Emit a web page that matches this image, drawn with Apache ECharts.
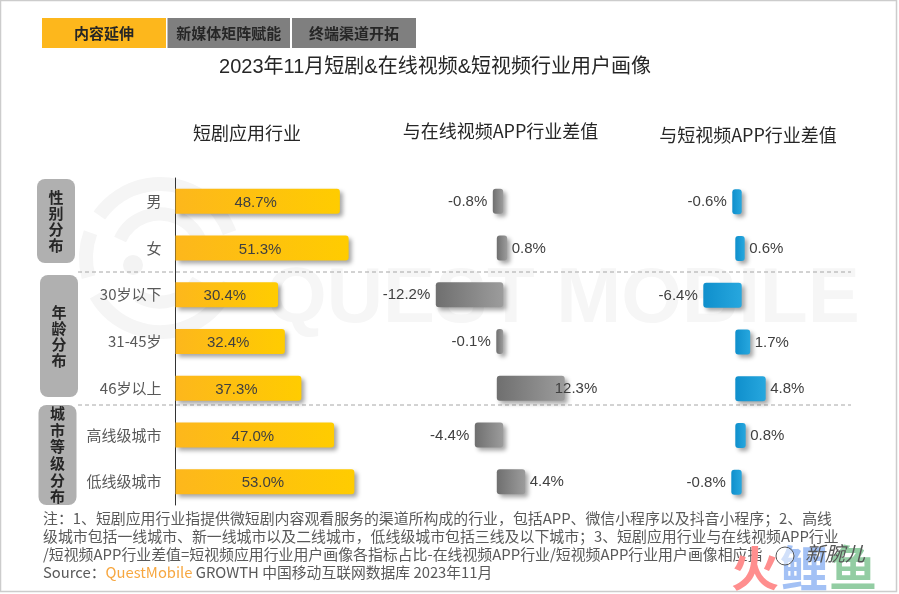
<!DOCTYPE html>
<html>
<head>
    <meta charset="utf-8">
    <title>2023年11月短剧&在线视频&短视频行业用户画像</title>
    <script src="https://cdn.jsdelivr.net/npm/echarts@6/dist/echarts.min.js"></script>
    <style>
        html, body { margin: 0; padding: 0; background: #fff; }
        #main { width: 899px; height: 594px; }
    </style>
</head>
<body>
<div id="main"></div>
<script type="text/javascript">
// 数据
var categories = ['男', '女', '30岁以下', '31-45岁', '46岁以上', '高线级城市', '低线级城市'];
var dramaShare = [48.7, 51.3, 30.4, 32.4, 37.3, 47.0, 53.0];
var onlineVideoDiff = [-0.8, 0.8, -12.2, -0.1, 12.3, -4.4, 4.4];
var shortVideoDiff = [-0.6, 0.6, -6.4, 1.7, 4.8, 0.8, -0.8];
var tabNames = ['内容延伸', '新媒体矩阵赋能', '终端渠道开拓'];
var panelTitles = ['短剧应用行业', '与在线视频APP行业差值', '与短视频APP行业差值'];
var groupNames = ['性别分布', '年龄分布', '城市等级分布'];
var noteLines = [
    '注：1、短剧应用行业指提供微短剧内容观看服务的渠道所构成的行业，包括APP、微信小程序以及抖音小程序；2、高线',
    '级城市包括一线城市、新一线城市以及二线城市，低线级城市包括三线及以下城市；3、短剧应用行业与在线视频APP行业',
    '/短视频APP行业差值=短视频应用行业用户画像各指标占比-在线视频APP行业/短视频APP行业用户画像相应指'
];

var FONT = '"Liberation Sans","Noto Sans CJK SC",sans-serif';
var CJK = '"Noto Sans CJK SC",sans-serif';
var TEXT = '#595959';

function hGrad(from, to) {
    return { type: 'linear', x: 0, y: 0, x2: 1, y2: 0, colorStops: [{ offset: 0, color: from }, { offset: 1, color: to }] };
}

// 差值条：两侧都比零点多出一点，和原图一样
function diffSeries(gridIndex, values, from, to) {
    return {
        type: 'custom',
        xAxisIndex: gridIndex,
        yAxisIndex: gridIndex,
        clip: false,
        data: values.map(function (v, i) { return [v, i]; }),
        encode: { x: 0, y: 1 },
        renderItem: function (params, api) {
            var v = api.value(0);
            var zero = api.coord([0, api.value(1)]);
            var end = api.coord([v, api.value(1)]);
            var pad = 3.2, h = 25;
            var left = v < 0 ? end[0] - pad : zero[0] - pad;
            var right = v < 0 ? zero[0] + pad : end[0] + pad;
            var labelX = v < 0 ? left - 5.5 : right + (v > 10 ? -10 : 4.5);
            return {
                type: 'group',
                children: [{
                    type: 'rect',
                    shape: { x: left, y: zero[1] - h / 2, width: right - left, height: h, r: 3 },
                    style: {
                        fill: hGrad(from, to),
                        shadowBlur: 4, shadowOffsetX: 3, shadowOffsetY: 3, shadowColor: 'rgba(0,0,0,0.35)'
                    }
                }, {
                    type: 'text',
                    z2: 5,
                    style: {
                        x: labelX, y: zero[1] + 0.5,
                        text: v.toFixed(1) + '%',
                        align: v < 0 ? 'right' : 'left', verticalAlign: 'middle',
                        fill: '#404040', font: '15px ' + FONT
                    }
                }]
            };
        }
    };
}

function hiddenX(index, min, max) {
    return { type: 'value', gridIndex: index, min: min, max: max, show: false };
}
function hiddenY(index) {
    return { type: 'category', gridIndex: index, data: categories, inverse: true, show: false };
}

var graphics = [];

// 水印
function arc(cx, cy, r, start, end, w) {
    graphics.push({
        type: 'arc', z: -10, silent: true,
        shape: { cx: cx, cy: cy, r: r, startAngle: start * Math.PI / 180, endAngle: end * Math.PI / 180 },
        style: { stroke: '#f5f5f5', lineWidth: w, fill: null }
    });
}
arc(160, 258, 74, 20, 150, 14);
arc(160, 258, 74, 165, 200, 14);
arc(160, 258, 74, 215, 340, 14);
arc(160, 258, 44, 205, 350, 13);
arc(160, 258, 44, 30, 120, 13);
graphics.push({ type: 'circle', z: -10, silent: true, shape: { cx: 133, cy: 265, r: 10 }, style: { fill: '#f3f3f3' } });
graphics.push({
    type: 'text', z: -10, silent: true,
    style: { x: 266, y: 300, text: 'QUEST MOBILE', verticalAlign: 'middle', fill: '#f6f6f6', font: 'bold 78px ' + FONT }
});

// 边框
graphics.push({
    type: 'rect', z: 10, silent: true,
    shape: { x: 0.5, y: 0.5, width: 896, height: 591 },
    style: { fill: null, stroke: '#cccccc', lineWidth: 1.5 }
});

// 顶部标签
[[42, 124, '#FDB71C'], [167.5, 122.5, '#7F7F7F'], [292, 124, '#7F7F7F']].forEach(function (t, i) {
    graphics.push({
        type: 'rect', z: 10, shape: { x: t[0], y: 18, width: t[1], height: 30 }, style: { fill: t[2] }
    });
    graphics.push({
        type: 'text', z: 11,
        style: {
            x: t[0] + t[1] / 2, y: 33.5, text: tabNames[i], align: 'center', verticalAlign: 'middle',
            fill: '#262626', font: 'bold 15px ' + CJK
        }
    });
});

// 标题
graphics.push({
    type: 'text', z: 11,
    style: {
        x: 435, y: 67, text: '2023年11月短剧&在线视频&短视频行业用户画像', align: 'center', verticalAlign: 'middle',
        fill: '#262626', font: '20px ' + FONT
    }
});
[[247, 133], [500.5, 131], [748, 135]].forEach(function (p, i) {
    graphics.push({
        type: 'text', z: 11,
        style: {
            x: p[0], y: p[1], text: panelTitles[i], align: 'center', verticalAlign: 'middle',
            fill: '#262626', font: '18px ' + CJK
        }
    });
});

// 左侧分组
[[37, 179, 38, 84, 16], [40, 275, 38, 122, 16], [38.5, 405, 38, 100, 16.6]].forEach(function (p, i) {
    graphics.push({
        type: 'rect', z: 10, shape: { x: p[0], y: p[1], width: p[2], height: p[3], r: 8 }, style: { fill: '#B0B0B0' }
    });
    graphics.push({
        type: 'text', z: 11,
        style: {
            x: p[0] + p[2] / 2, y: p[1] + p[3] / 2,
            text: groupNames[i].split('').join('\n'),
            align: 'center', verticalAlign: 'middle', lineHeight: p[4],
            fill: '#262626', font: 'bold 15px ' + CJK
        }
    });
});

// 虚线
[272, 405].forEach(function (y) {
    graphics.push({
        type: 'line', z: 1, silent: true,
        shape: { x1: 78, y1: y, x2: 851, y2: y },
        style: { stroke: '#a6a6a6', lineWidth: 1, lineDash: [4, 3] }
    });
});

// 注释
noteLines.forEach(function (line, i) {
    graphics.push({
        type: 'text', z: 11,
        style: { x: 43, y: 518 + i * 18, text: line, verticalAlign: 'middle', fill: TEXT, font: '14.9px ' + CJK }
    });
});
graphics.push({
    type: 'text', z: 11,
    style: {
        x: 43, y: 572, verticalAlign: 'middle',
        text: '{a|Source：}{b|QuestMobile}{a| GROWTH 中国移动互联网数据库 2023年11月}',
        rich: {
            a: { fill: TEXT, font: '14.8px ' + CJK },
            b: { fill: '#F7A740', font: '14.8px ' + CJK }
        }
    }
});

// 右下角水印
[['火', 731, '#FF8E8E'], ['鲤', 780, '#A3C1F5'], ['鱼', 829, '#93CDA3']].forEach(function (p) {
    graphics.push({
        type: 'text', z: 12, silent: true,
        style: { x: p[1], y: 568, text: p[0], verticalAlign: 'middle', fill: p[2], font: 'bold 48px ' + CJK }
    });
});
graphics.push({
    type: 'circle', z: 13, silent: true,
    shape: { cx: 785, cy: 556, r: 9 }, style: { fill: 'rgba(255,255,255,0.5)', stroke: '#555', lineWidth: 1 }
});
graphics.push({
    type: 'text', z: 13, silent: true,
    style: { x: 805, y: 553, text: '新腕儿', verticalAlign: 'middle', fill: '#555555', font: 'italic 20px ' + CJK }
});

var myChart = echarts.init(document.getElementById('main'));

var option = {
    animation: false,
    backgroundColor: '#fff',
    graphic: { elements: graphics },
    grid: [
        { left: 175.5, width: 337.5, top: 178, height: 327 },
        { left: 380, width: 240, top: 178, height: 327 },
        { left: 618.5, width: 240, top: 178.5, height: 327 }
    ],
    xAxis: [hiddenX(0, 0, 100), hiddenX(1, -24, 24), hiddenX(2, -24, 24)],
    yAxis: [
        {
            type: 'category',
            gridIndex: 0,
            data: categories,
            inverse: true,
            axisLine: { lineStyle: { color: '#333333', width: 1 } },
            axisTick: { show: false },
            axisLabel: { color: TEXT, fontSize: 15, margin: 14, fontFamily: CJK }
        },
        hiddenY(1),
        hiddenY(2)
    ],
    series: [
        {
            type: 'bar',
            data: dramaShare,
            barWidth: 25,
            itemStyle: {
                color: hGrad('#FDB71C', '#FFCC00'),
                borderRadius: [0, 3, 3, 0],
                shadowBlur: 4, shadowOffsetX: 3, shadowOffsetY: 3, shadowColor: 'rgba(0,0,0,0.35)'
            },
            label: {
                show: true,
                position: 'inside',
                offset: [-2, 1.5],
                color: '#404040',
                fontSize: 15,
                fontFamily: 'Liberation Sans',
                formatter: function (p) { return p.value.toFixed(1) + '%'; }
            }
        },
        diffSeries(1, onlineVideoDiff, '#6F6F6F', '#9C9C9C'),
        diffSeries(2, shortVideoDiff, '#0F8FCC', '#27A7DE')
    ]
};

myChart.setOption(option);
</script>
</body>
</html>
